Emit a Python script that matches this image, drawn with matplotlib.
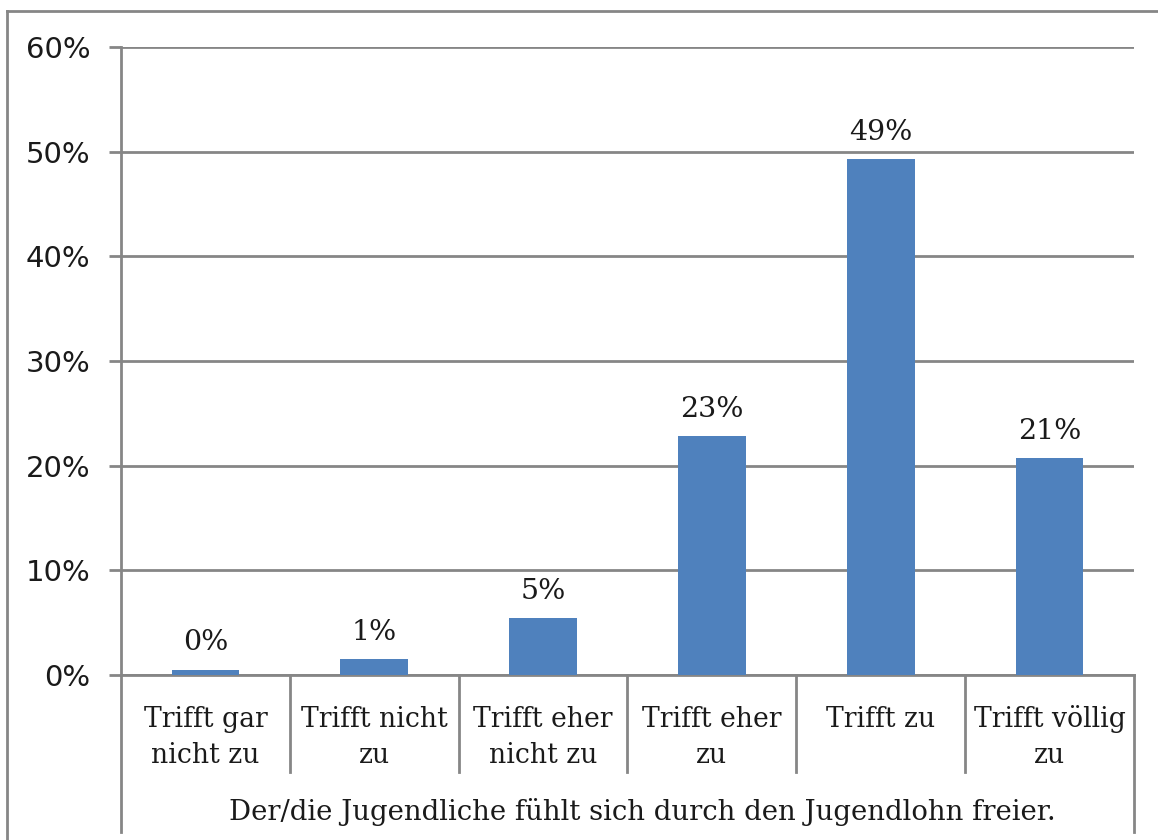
import matplotlib
matplotlib.use("Agg")
import matplotlib.pyplot as plt
import matplotlib.transforms as mtransforms
from matplotlib.lines import Line2D

# Data
categories = [
    "Trifft gar\nnicht zu",
    "Trifft nicht\nzu",
    "Trifft eher\nnicht zu",
    "Trifft eher\nzu",
    "Trifft zu",
    "Trifft völlig\nzu",
]
values = [0.5, 1.5, 5.4, 22.8, 49.3, 20.7]
value_labels = ["0%", "1%", "5%", "23%", "49%", "21%"]
group_label = "Der/die Jugendliche fühlt sich durch den Jugendlohn freier."
y_ticks = [0, 10, 20, 30, 40, 50, 60]

grid_color = "#868686"
bar_color = "#4f81bd"
text_color = "#1a1a1a"

fig = plt.figure(figsize=(11.58, 8.4), dpi=100)
ax = fig.add_axes([121 / 1158, 165 / 840, (1134 - 121) / 1158, 628 / 840])

x = list(range(len(categories)))
ax.bar(x, values, width=0.4, color=bar_color, zorder=3)

ax.set_xlim(-0.5, len(categories) - 0.5)
ax.set_ylim(0, 60)
ax.set_yticks(y_ticks)
ax.set_yticklabels([f"{t}%" for t in y_ticks], fontsize=21,
                   family="DejaVu Sans", color=text_color)
ax.tick_params(axis="y", length=9, width=2, color=grid_color, pad=13)
ax.set_xticks([])
ax.yaxis.grid(True, color=grid_color, linewidth=2, zorder=0)

for side in ["top", "right"]:
    ax.spines[side].set_visible(False)
ax.spines["left"].set_color(grid_color)
ax.spines["left"].set_linewidth(2)
ax.spines["bottom"].set_color(grid_color)
ax.spines["bottom"].set_linewidth(2)

# value labels above bars
for xi, v, lab in zip(x, values, value_labels):
    ax.annotate(lab, (xi, v), xytext=(0, 14), textcoords="offset points",
                ha="center", va="baseline", fontsize=20.5,
                family="DejaVu Serif", color=text_color)


def px_to_axes(p):
    # pixel row of the figure -> axes fraction (0% line at row 675)
    return (675 - p) / 628


# multi-level category axis
trans = mtransforms.blended_transform_factory(ax.transData, ax.transAxes)
for i in range(1, len(categories)):
    ax.add_line(Line2D([i - 0.5, i - 0.5], [0, px_to_axes(772)],
                       transform=trans, color=grid_color, linewidth=2,
                       clip_on=False))
for xe in [-0.5, len(categories) - 0.5]:
    ax.add_line(Line2D([xe, xe], [0, px_to_axes(832)], transform=trans,
                       color=grid_color, linewidth=2, clip_on=False))

line_rows = [727, 763]
for xi, cat in zip(x, categories):
    for row, part in zip(line_rows, cat.split("\n")):
        ax.text(xi, px_to_axes(row), part, transform=trans, ha="center",
                va="baseline", fontsize=19.2, family="DejaVu Serif",
                color=text_color)

# group label sits slightly right of centre in the original
ax.annotate(group_label, ((len(categories) - 1) / 2, px_to_axes(820)),
            xycoords=trans, xytext=(11, 0), textcoords="offset points",
            ha="center", va="baseline", fontsize=19.8,
            family="DejaVu Serif", color=text_color, annotation_clip=False)

# outer chart border
fig.add_artist(Line2D([7 / 1158, 7 / 1158], [0, 1 - 11 / 840],
                      transform=fig.transFigure, color=grid_color, linewidth=2))
fig.add_artist(Line2D([7 / 1158, 1], [1 - 11 / 840, 1 - 11 / 840],
                      transform=fig.transFigure, color=grid_color, linewidth=2))

fig.savefig("out.png", dpi=100)
